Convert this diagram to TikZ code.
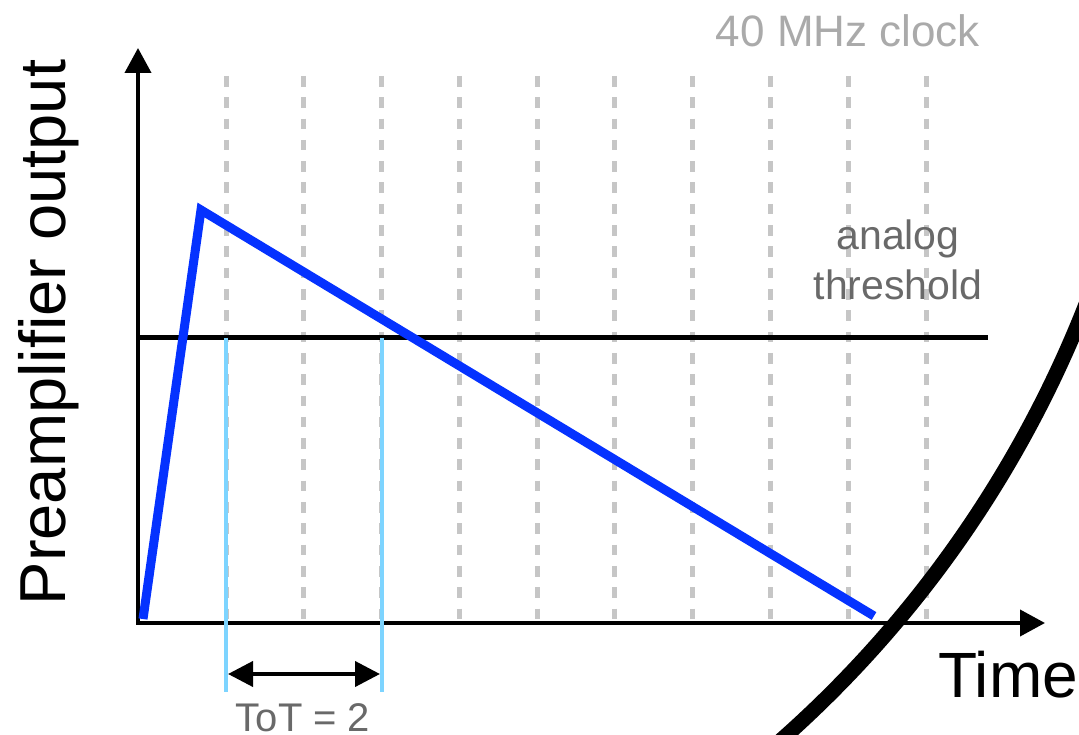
\documentclass[tikz,border=0pt]{standalone}
\usepackage{fontspec}
\setmainfont{Liberation Sans}
\usetikzlibrary{arrows.meta}
\definecolor{sigblue}{RGB}{5,50,255}
\definecolor{totblue}{RGB}{125,212,255}
\definecolor{clockgray}{RGB}{198,198,198}
\definecolor{lightlabel}{RGB}{170,170,170}
\definecolor{darklabel}{RGB}{105,105,105}
\tikzset{
  clockline/.style={draw=clockgray, line width=5pt, dash pattern=on 10.6pt off 10.7pt},
  axisline/.style={draw=black, line width=4pt, -{Triangle[length=25pt,width=26pt]}},
  thrline/.style={draw=black, line width=4pt},
  signal/.style={draw=sigblue, line width=9pt},
  totline/.style={draw=totblue, line width=4pt},
  dblarrow/.style={draw=black, line width=4pt, {Triangle[length=25pt,width=25pt]}-{Triangle[length=25pt,width=25pt]}},
  bigcurve/.style={draw=black, line width=15pt},
  lbl/.style={inner sep=0pt, anchor=base}
}
\begin{document}
\begin{tikzpicture}[x=1pt, y=-1pt]
\clip (0,0) rectangle (1079,735);
\fill[white] (0,0) rectangle (1079,735);
% clock lines
\foreach \i in {0,...,9} {
  \coordinate (ct\i) at ({226+\i*77.78},76);
  \coordinate (cb\i) at ({226+\i*77.78},622);
  \draw[clockline] (ct\i) -- (cb\i);
}
% threshold
\coordinate (thA) at (138,337.5);
\coordinate (thB) at (988,337.5);
\draw[thrline] (thA) -- (thB);
% axes
\coordinate (O) at (138,623);
\coordinate (Ox) at (136,623);
\coordinate (ytop) at (138,48);
\coordinate (xend) at (1045,623);
\draw[axisline] (O) -- (ytop);
\draw[axisline] (Ox) -- (xend);
% signal
\coordinate (s0) at (143,619);
\coordinate (s1) at (201,210);
\coordinate (s2) at (874,616);
\draw[signal] (s0) -- (s1) -- (s2);
% ToT lines
\coordinate (t1a) at (226,338);
\coordinate (t1b) at (226,692);
\coordinate (t2a) at (381.5,338);
\coordinate (t2b) at (381.5,692);
\draw[totline] (t1a) -- (t1b);
\draw[totline] (t2a) -- (t2b);
\coordinate (da) at (228,674);
\coordinate (db) at (380,674);
\draw[dblarrow] (da) -- (db);
% labels
\node[lbl, text=lightlabel, font=\fontsize{44}{50}\selectfont] (clk) at (848,47) {40 MHz clock};
\node[lbl, text=darklabel, align=center, font=\fontsize{41}{50}\selectfont] (thr) at (898,300) {analog\\threshold};
\node[lbl, text=darklabel, font=\fontsize{40}{48}\selectfont] (tot) at (303,731) {ToT = 2};
\node[lbl, font=\fontsize{64}{70}\selectfont] (time) at (1008,697) {Time};
\node[lbl, rotate=90, font=\fontsize{65}{70}\selectfont] (ylab) at (65,332.5) {Preamplifier output};
% big curve (arc of a large circle)
\coordinate (cc) at (27.7,-111.5);
\draw[bigcurve] (cc) ++(51:1137) arc[start angle=51, end angle=19, radius=1137];
\end{tikzpicture}
\end{document}
